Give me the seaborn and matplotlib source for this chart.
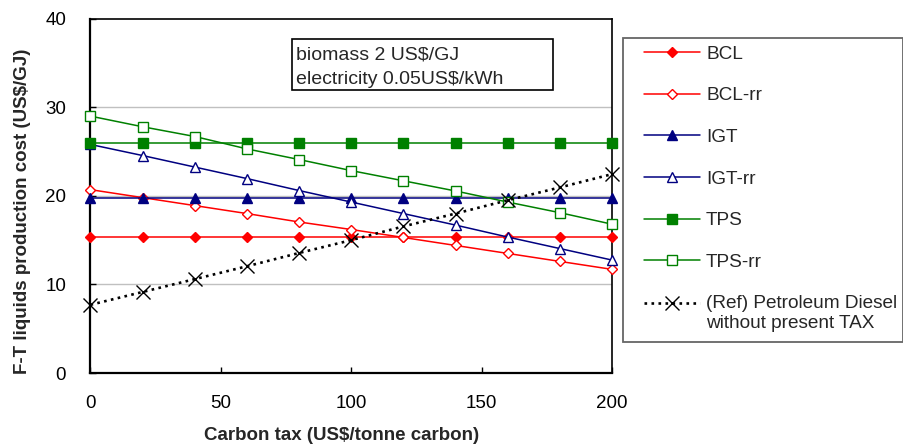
import matplotlib
matplotlib.use("Agg")
import matplotlib.pyplot as plt
from matplotlib.patches import Rectangle
import seaborn as sns
import pandas as pd
import numpy as np

carbon_tax = [0, 20, 40, 60, 80, 100, 120, 140, 160, 180, 200]
bcl = [15.4] * 11
bcl_rr = [20.7, 19.8, 18.9, 18.0, 17.05, 16.2, 15.3, 14.4, 13.5, 12.6, 11.7]
igt = [19.8] * 11
igt_rr = [25.8, 24.55, 23.25, 21.95, 20.6, 19.3, 18.0, 16.7, 15.35, 14.05, 12.75]
tps = [26.0] * 11
tps_rr = [29.0, 27.8, 26.7, 25.3, 24.1, 22.85, 21.7, 20.55, 19.3, 18.1, 16.8]
ref_diesel = [7.7, 9.15, 10.6, 12.05, 13.55, 15.0, 16.55, 18.0, 19.5, 20.95, 22.45]

series_names = ["BCL", "BCL-rr", "IGT", "IGT-rr", "TPS", "TPS-rr",
                "(Ref) Petroleum Diesel\nwithout present TAX"]
series_vals = [bcl, bcl_rr, igt, igt_rr, tps, tps_rr, ref_diesel]

sns.set_theme(style="white")
plt.rcParams["font.family"] = ["Liberation Sans", "DejaVu Sans"]

W, H = 904, 445
fig = plt.figure(figsize=(W / 100, H / 100), dpi=100)
ax_l, ax_r, ax_t, ax_b = 90.5, 612, 18.7, 373
ax = fig.add_axes([ax_l / W, 1 - ax_b / H, (ax_r - ax_l) / W, (ax_b - ax_t) / H])

styles = [
    dict(color="#ff0000", marker="D", ms=5.5, mfc="#ff0000", ls="-"),
    dict(color="#ff0000", marker="D", ms=5.5, mfc="white", ls="-"),
    dict(color="#000080", marker="^", ms=7, mfc="#000080", ls="-"),
    dict(color="#000080", marker="^", ms=7, mfc="white", ls="-"),
    dict(color="#008000", marker="s", ms=6.5, mfc="#008000", ls="-"),
    dict(color="#008000", marker="s", ms=6.5, mfc="white", ls="-"),
    dict(color="#000000", marker="x", ms=10.5, mfc="none", ls=":"),
]

for name, vals, st in zip(series_names, series_vals, styles):
    df = pd.DataFrame({"x": carbon_tax, "y": vals})
    sns.lineplot(data=df, x="x", y="y", ax=ax, color=st["color"], marker=st["marker"],
                 markersize=st["ms"], markerfacecolor=st["mfc"], markeredgecolor=st["color"],
                 markeredgewidth=1.0, linestyle=st["ls"],
                 linewidth=1.1 if st["ls"] == "-" else 1.9,
                 label=name, clip_on=False, zorder=3)

ax.set_xlim(0, 200)
ax.set_ylim(0, 40)
ax.set_xticks([0, 50, 100, 150, 200])
ax.set_yticks([0, 10, 20, 30, 40])
ax.tick_params(axis="both", direction="in", length=4, width=1, labelsize=13.5, colors="black",
               left=True, bottom=True)
ax.tick_params(axis="x", pad=15.5)
ax.tick_params(axis="y", pad=17.5)
for y in [10, 20, 30]:
    ax.axhline(y, color="#c0c0c0", lw=1, zorder=0)
for s in ax.spines.values():
    s.set_color("black")
    s.set_linewidth(1.2)
ax.spines["left"].set_linewidth(1.6)
ax.spines["bottom"].set_linewidth(1.6)

ax.set_xlabel("Carbon tax (US$/tonne carbon)", fontsize=13.5, fontweight="bold")
ax.set_ylabel("F-T liquids production cost (US$/GJ)", fontsize=13.5, fontweight="bold")
aw, ah = ax_r - ax_l, ax_b - ax_t
ax.xaxis.set_label_coords((341.5 - ax_l) / aw, (ax_b - 427) / ah)
ax.yaxis.set_label_coords((31.5 - ax_l) / aw, (ax_b - 211.5) / ah)

# annotation box
bx0, bx1, by0, by1 = 292, 553, 39.3, 90
ax.add_patch(Rectangle(((bx0 - ax_l) / aw, (ax_b - by1) / ah), (bx1 - bx0) / aw, (by1 - by0) / ah,
                       transform=ax.transAxes, fc="white", ec="black", lw=1.2, zorder=4))
ax.text((296.5 - ax_l) / aw, (ax_b - 67.5) / ah, "biomass 2 US$/GJ\nelectricity 0.05US$/kWh",
        transform=ax.transAxes, fontsize=14, va="center", ha="left", linespacing=1.55, zorder=5)

ax.get_legend().remove()
handles, labels = ax.get_legend_handles_labels()
# legend frame
lx0, lx1, ly0, ly1 = 623, 903, 37.7, 341.7
fig.patches.append(Rectangle((lx0 / W, 1 - ly1 / H), (lx1 - lx0) / W, (ly1 - ly0) / H,
                             transform=fig.transFigure, fc="white", ec="#666666", lw=1.3))
leg = fig.legend(handles, labels, loc="upper left", bbox_to_anchor=(644 / W, 1 - 45.2 / H),
                 fontsize=13.7, frameon=False, handlelength=2.94, labelspacing=1.28,
                 borderpad=0, handletextpad=0.32, borderaxespad=0)
# align the last handle with the first line of its two-line label
for h in [leg.legend_handles[-1]]:
    h.set_ydata(np.asarray(h.get_ydata(), dtype=float) + 7.8)

fig.savefig("out.png", dpi=100)
